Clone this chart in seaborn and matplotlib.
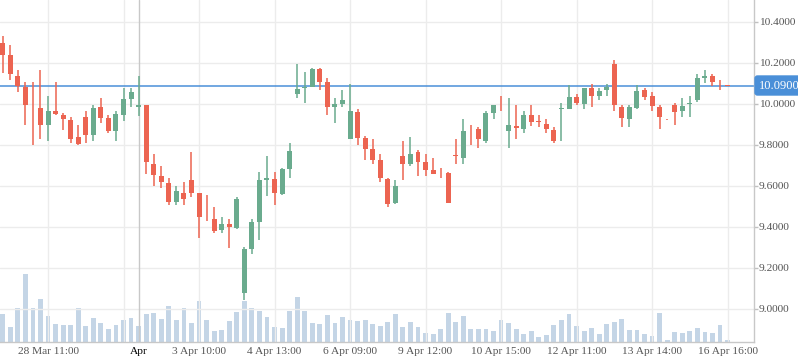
import matplotlib
matplotlib.use("Agg")
import matplotlib.pyplot as plt
import matplotlib.transforms as mtransforms
import numpy as np
import pandas as pd
import seaborn as sns

# OHLC per candle
opens = [10.296, 10.239, 10.137, 10.084, 9.985, 9.979, 9.898, 9.966, 9.946, 9.922,
         9.839, 9.935, 9.849, 9.985, 9.932, 9.868, 9.946, 10.024, 9.985, 9.995,
         9.707, 9.649, 9.615, 9.522, 9.566, 9.629, 9.567, 9.444, 9.439, 9.385,
         9.415, 9.395, 9.080, 9.293, 9.424, 9.629, 9.634, 9.562, 9.683, 10.050,
         10.080, 10.084, 10.171, 10.107, 9.987, 10.001, 9.831, 9.961, 9.834, 9.780,
         9.727, 9.634, 9.519, 9.746, 9.709, 9.766, 9.719, 9.678, 9.662, 9.663,
         9.747, 9.738, 9.878, 9.878, 9.820, 9.956, 9.990, 9.868, 9.893, 9.878,
         9.946, 9.913, 9.902, 9.873, 9.975, 9.977, 10.034, 10.000, 10.078, 10.039,
         10.068, 10.195, 9.985, 9.927, 9.980, 10.068, 10.039, 9.985, 9.926, 9.995,
         9.966, 10.000, 10.020, 10.127, 10.137, 10.101, 10.091]
highs = [10.332, 10.288, 10.166, 10.106, 10.106, 10.166, 10.039, 10.106, 9.958, 9.935,
         9.898, 9.966, 9.995, 10.029, 9.946, 9.966, 10.077, 10.077, 10.137, 9.995,
         9.756, 9.698, 9.639, 9.600, 9.620, 9.766, 9.567, 9.556, 9.498, 9.449,
         9.439, 9.546, 9.302, 9.439, 9.668, 9.746, 9.668, 9.688, 9.810, 10.195,
         10.156, 10.176, 10.176, 10.127, 10.031, 10.068, 10.098, 9.976, 9.844, 9.829,
         9.756, 9.640, 9.629, 9.820, 9.839, 9.776, 9.756, 9.737, 9.688, 9.668,
         9.829, 9.927, 9.898, 9.888, 9.966, 9.995, 10.039, 10.029, 9.995, 9.966,
         9.995, 9.946, 9.927, 9.888, 10.005, 10.091, 10.049, 10.078, 10.098, 10.078,
         10.098, 10.215, 9.995, 9.995, 10.093, 10.078, 10.059, 9.995, 9.927, 10.005,
         10.029, 10.039, 10.146, 10.166, 10.146, 10.117, 10.091]
lows = [10.150, 10.117, 10.060, 9.898, 9.800, 9.829, 9.820, 9.946, 9.873, 9.808,
        9.800, 9.810, 9.820, 9.907, 9.859, 9.820, 9.917, 9.985, 9.941, 9.659,
        9.600, 9.592, 9.507, 9.507, 9.507, 9.548, 9.348, 9.431, 9.371, 9.371,
        9.298, 9.390, 9.044, 9.268, 9.337, 9.551, 9.507, 9.558, 9.639, 10.031,
        10.006, 10.084, 10.070, 9.948, 9.909, 9.987, 9.831, 9.801, 9.728, 9.709,
        9.621, 9.499, 9.514, 9.631, 9.699, 9.650, 9.650, 9.660, 9.640, 9.519,
        9.709, 9.709, 9.801, 9.785, 9.810, 9.927, 9.966, 9.785, 9.829, 9.859,
        9.893, 9.888, 9.859, 9.810, 9.820, 9.976, 9.995, 9.976, 9.985, 10.020,
        10.039, 9.966, 9.888, 9.888, 9.976, 10.020, 9.966, 9.878, 9.924, 9.898,
        9.937, 9.937, 10.010, 10.102, 10.088, 10.068, 10.090]
closes = [10.240, 10.148, 10.088, 9.995, 9.983, 9.898, 9.966, 9.951, 9.927, 9.829,
          9.805, 9.849, 9.980, 9.932, 9.868, 9.951, 10.024, 10.059, 9.995, 9.719,
          9.654, 9.620, 9.522, 9.576, 9.537, 9.567, 9.450, 9.442, 9.380, 9.415,
          9.400, 9.537, 9.293, 9.424, 9.629, 9.639, 9.567, 9.683, 9.771, 10.073,
          10.084, 10.171, 10.109, 9.987, 10.000, 10.020, 9.966, 9.836, 9.782, 9.728,
          9.640, 9.514, 9.600, 9.709, 9.756, 9.719, 9.677, 9.660, 9.661, 9.519,
          9.745, 9.868, 9.876, 9.829, 9.956, 9.995, 9.988, 9.898, 9.883, 9.946,
          9.912, 9.911, 9.878, 9.820, 9.979, 10.034, 10.005, 10.078, 10.039, 10.063,
          10.083, 9.995, 9.932, 9.985, 10.063, 10.034, 9.990, 9.937, 9.925, 9.961,
          9.990, 10.005, 10.127, 10.137, 10.107, 10.100, 10.090]
volumes = [2800, 1500, 3370, 6800, 3400, 4300, 2600, 1800, 1700, 1700,
           3400, 1600, 2400, 1900, 1300, 1700, 2200, 2400, 1600, 2800,
           2900, 2300, 3600, 2200, 3400, 1900, 4100, 2200, 1100, 1200,
           2100, 3000, 4100, 3400, 3100, 2500, 1500, 1400, 3100, 4500,
           3100, 1900, 1800, 2700, 1900, 2500, 2200, 2100, 2200, 1800,
           1600, 2000, 2800, 1500, 2000, 1500, 900, 800, 1300, 2900,
           2000, 2600, 1300, 1300, 1300, 1100, 2200, 1900, 1300, 800,
           1100, 500, 700, 1700, 2200, 2800, 1600, 1100, 1400, 800,
           1800, 2000, 2300, 1200, 1200, 800, 600, 2900, 200, 1000,
           900, 1100, 1400, 1000, 900, 1700, 200]

tick_pos = [6, 18, 26, 36, 46, 56, 66, 76, 86, 96]
tick_labels = ["28 Mar 11:00", "Apr", "3 Apr 10:00", "4 Apr 13:00", "6 Apr 09:00",
               "9 Apr 12:00", "10 Apr 15:00", "12 Apr 11:00", "13 Apr 14:00",
               "16 Apr 16:00"]
grid_pos = [6, 16, 26, 36, 46, 56, 66, 76, 86, 96]
price_ticks = [9.0, 9.2, 9.4, 9.6, 9.8, 10.0, 10.2, 10.4]
last_price = 10.09

UP = "#6aab8e"
DOWN = "#ec6451"
VOL = "#c4d5e6"
BLUE = "#4a8fd8"


def main() -> None:
    sns.set_theme(style="white")
    plt.rcParams["font.family"] = ["Liberation Serif", "DejaVu Serif"]

    df = pd.DataFrame({"o": opens, "h": highs, "l": lows, "c": closes, "v": volumes})
    df["i"] = np.arange(len(df))
    up = df["c"] >= df["o"]

    fig = plt.figure(figsize=(7.98, 3.63), dpi=100)
    rect = [0.0, 21 / 363, 754 / 798, 342 / 363]
    ax_v = fig.add_axes(rect, zorder=1)
    ax = fig.add_axes(rect, zorder=2)
    ax.patch.set_visible(False)

    # volume bars behind the candles
    sns.barplot(data=df, x="i", y="v", native_scale=True, width=0.64,
                color=VOL, saturation=1, linewidth=0, ax=ax_v)
    ax_v.set_ylim(0, 34200)
    ax_v.set_xlim(-0.36, 99.5)
    ax_v.axis("off")

    # grid
    for y in price_ticks:
        ax.axhline(y, color="#ececec", lw=1, zorder=0)
    for g in grid_pos:
        ax.axvline(g, color="#ececec", lw=1, zorder=0)
    ax.axvline(18, color="#c8c8c8", lw=1, zorder=0)

    # candles
    for mask, col in ((up, UP), (~up, DOWN)):
        d = df[mask]
        ax.vlines(d["i"], d["l"], d["h"], color=col, lw=1.1, zorder=3)
        body_lo = np.minimum(d["o"], d["c"])
        body_h = np.maximum((d["c"] - d["o"]).abs(), 0.004)
        ax.bar(d["i"], body_h, bottom=body_lo, width=0.66, color=col,
               linewidth=0, zorder=4)

    ax.axhline(last_price, color=BLUE, lw=1.1, zorder=2)

    ax.set_xlim(-0.36, 99.5)
    ax.set_ylim(8.839, 10.507)

    ax.yaxis.tick_right()
    ax.set_yticks(price_ticks)
    ax.set_yticklabels([f"{p:.4f}" for p in price_ticks])
    ax.set_xticks(tick_pos)
    ax.set_xticklabels(tick_labels)
    ax.tick_params(axis="both", labelsize=8.2, colors="#c0c0c0", labelcolor="#555555",
                   length=3, width=1, pad=0.5)
    ax.get_xticklabels()[1].set_color("black")

    for s in ("top", "left"):
        ax.spines[s].set_visible(False)
    for s in ("right", "bottom"):
        ax.spines[s].set_color("#c8c8c8")
        ax.spines[s].set_linewidth(1)

    # last price label on the axis
    trans = mtransforms.blended_transform_factory(ax.transAxes, ax.transData)
    ax.text(1.006, last_price, f"{last_price:.4f}", transform=trans, ha="left",
            va="center", color="white", fontsize=9, zorder=6,
            bbox=dict(boxstyle="round,pad=0.28,rounding_size=0.2", fc=BLUE, ec=BLUE))

    fig.savefig("out.png", dpi=100)


if __name__ == "__main__":
    main()
